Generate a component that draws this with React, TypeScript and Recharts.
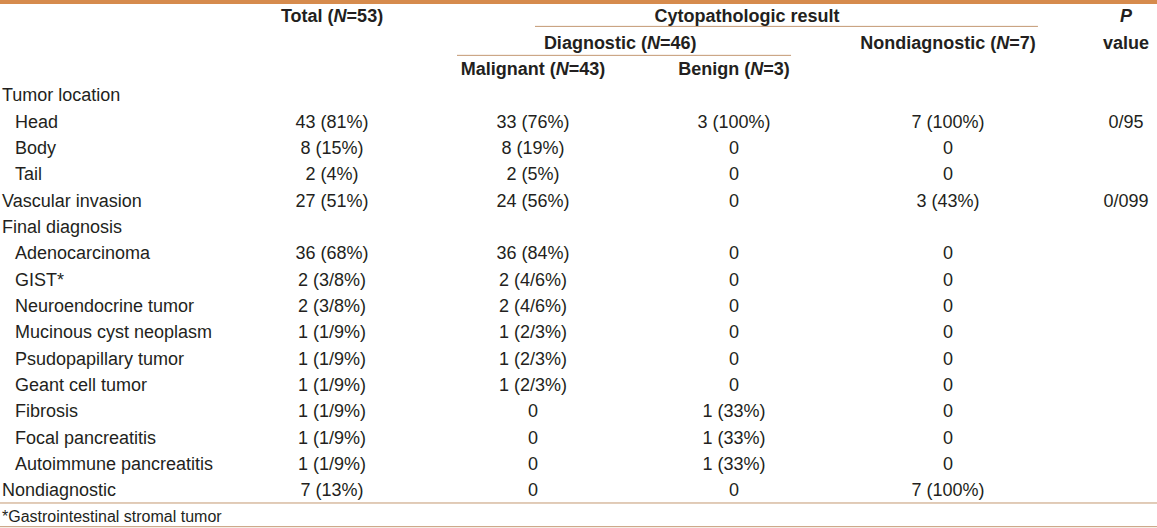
import { ScatterChart, Scatter, XAxis, YAxis, ReferenceLine } from 'recharts';

// Row labels of the table body (level 1 = indented sub-item)
const rowLabels = [
    'Tumor location',
    'Head',
    'Body',
    'Tail',
    'Vascular invasion',
    'Final diagnosis',
    'Adenocarcinoma',
    'GIST*',
    'Neuroendocrine tumor',
    'Mucinous cyst neoplasm',
    'Psudopapillary tumor',
    'Geant cell tumor',
    'Fibrosis',
    'Focal pancreatitis',
    'Autoimmune pancreatitis',
    'Nondiagnostic',
];
const rowLevels = [0, 1, 1, 1, 0, 0, 1, 1, 1, 1, 1, 1, 1, 1, 1, 0];

// Column values, one entry per body row ('' = empty cell)
const totalValues = ['', '43 (81%)', '8 (15%)', '2 (4%)', '27 (51%)', '', '36 (68%)', '2 (3/8%)', '2 (3/8%)', '1 (1/9%)', '1 (1/9%)', '1 (1/9%)', '1 (1/9%)', '1 (1/9%)', '1 (1/9%)', '7 (13%)'];
const malignantValues = ['', '33 (76%)', '8 (19%)', '2 (5%)', '24 (56%)', '', '36 (84%)', '2 (4/6%)', '2 (4/6%)', '1 (2/3%)', '1 (2/3%)', '1 (2/3%)', '0', '0', '0', '0'];
const benignValues = ['', '3 (100%)', '0', '0', '0', '', '0', '0', '0', '0', '0', '0', '1 (33%)', '1 (33%)', '1 (33%)', '0'];
const nondiagnosticValues = ['', '7 (100%)', '0', '0', '3 (43%)', '', '0', '0', '0', '0', '0', '0', '0', '0', '0', '7 (100%)'];
const pValues = ['', '0/95', '', '', '0/099', '', '', '', '', '', '', '', '', '', '', ''];

// Header texts
const headerRow0 = ['Total (N=53)', 'Cytopathologic result', 'P'];
const headerRow1 = ['Diagnostic (N=46)', 'Nondiagnostic (N=7)', 'value'];
const headerRow2 = ['Malignant (N=43)', 'Benign (N=3)'];
const footnote = '*Gastrointestinal stromal tumor';

// Layout: horizontal centers as fraction of the table width
const COL = { total: 0.287, malignant: 0.4607, benign: 0.6344, nondiag: 0.8194, p: 0.9732 };
const SPAN = { cyto: 0.6456, diag: 0.536 };
const HEADER_ROWS = 3;

const TEXT = '#231f20';
const RULE = '#c39872';
const FONT = '"Liberation Sans", Arial, sans-serif';

type Cell = { x: number; y: number; text: string; anchor: 'start' | 'middle'; bold?: boolean; level?: number; small?: boolean };

const cells: Cell[] = [];
const valueCols: [number, string[]][] = [
    [COL.total, totalValues],
    [COL.malignant, malignantValues],
    [COL.benign, benignValues],
    [COL.nondiag, nondiagnosticValues],
    [COL.p, pValues],
];

rowLabels.forEach((label, i) => {
    const y = i + HEADER_ROWS;
    cells.push({ x: 0, y, text: label, anchor: 'start', level: rowLevels[i] });
    valueCols.forEach(([x, values]) => {
        if (values[i]) cells.push({ x, y, text: values[i], anchor: 'middle' });
    });
});

const headerCells: Cell[] = [
    { x: COL.total, y: 0, text: headerRow0[0], anchor: 'middle', bold: true },
    { x: SPAN.cyto, y: 0, text: headerRow0[1], anchor: 'middle', bold: true },
    { x: COL.p, y: 0, text: headerRow0[2], anchor: 'middle', bold: true },
    { x: SPAN.diag, y: 1, text: headerRow1[0], anchor: 'middle', bold: true },
    { x: COL.nondiag, y: 1, text: headerRow1[1], anchor: 'middle', bold: true },
    { x: COL.p, y: 1, text: headerRow1[2], anchor: 'middle', bold: true },
    { x: COL.malignant, y: 2, text: headerRow2[0], anchor: 'middle', bold: true },
    { x: COL.benign, y: 2, text: headerRow2[1], anchor: 'middle', bold: true },
];

const footCells: Cell[] = [
    { x: 0, y: HEADER_ROWS + rowLabels.length, text: footnote, anchor: 'start', small: true },
];

// italic N in "(N=..)" and italic P header
const rich = (text: string) => {
    if (text === 'P') return <tspan fontStyle="italic">P</tspan>;
    const parts = text.split(/(N(?==))/);
    return parts.map((p, i) =>
        p === 'N' ? (
            <tspan key={i} fontStyle="italic">N</tspan>
        ) : (
            <tspan key={i}>{p}</tspan>
        )
    );
};

const renderCell = (props: any) => {
    const { cx, cy, payload } = props;
    const c = payload as Cell;
    const dx = c.anchor === 'start' ? 2 + (c.level || 0) * 13 : 0;
    const size = c.small ? 16 : 18;
    return (
        <text
            x={cx + dx}
            y={cy}
            dy={size * 0.36}
            textAnchor={c.anchor}
            fontSize={size}
            fontWeight={c.bold ? 'bold' : 'normal'}
            fontFamily={FONT}
            fill={TEXT}
        >
            {rich(c.text)}
        </text>
    );
};

export default function App() {
    const lastRow = HEADER_ROWS + rowLabels.length;
    return (
        <div style={{ position: 'absolute', top: 0, left: 0, width: 1157, background: '#fff' }}>
            <style>{'body{margin:0}'}</style>
            <div style={{ height: 4, background: '#d68b4d' }} />
            <ScatterChart width={1157} height={524} margin={{ top: 0, right: 0, bottom: 0, left: 0 }}>
                <XAxis type="number" dataKey="x" domain={[0, 1]} hide allowDataOverflow />
                <YAxis type="number" dataKey="y" domain={[-0.45, lastRow + 0.45]} reversed hide allowDataOverflow />
                <ReferenceLine segment={[{ x: 0.4624, y: 0.4 }, { x: 0.8971, y: 0.4 }]} stroke={RULE} strokeWidth={1} />
                <ReferenceLine segment={[{ x: 0.395, y: 1.5 }, { x: 0.6837, y: 1.5 }]} stroke={RULE} strokeWidth={1} />
                <ReferenceLine y={lastRow - 0.5} stroke={RULE} strokeWidth={1} />
                <ReferenceLine y={lastRow + 0.4} stroke={RULE} strokeWidth={1} />
                <Scatter data={headerCells} shape={renderCell} isAnimationActive={false} />
                <Scatter data={cells} shape={renderCell} isAnimationActive={false} />
                <Scatter data={footCells} shape={renderCell} isAnimationActive={false} />
            </ScatterChart>
        </div>
    );
}
